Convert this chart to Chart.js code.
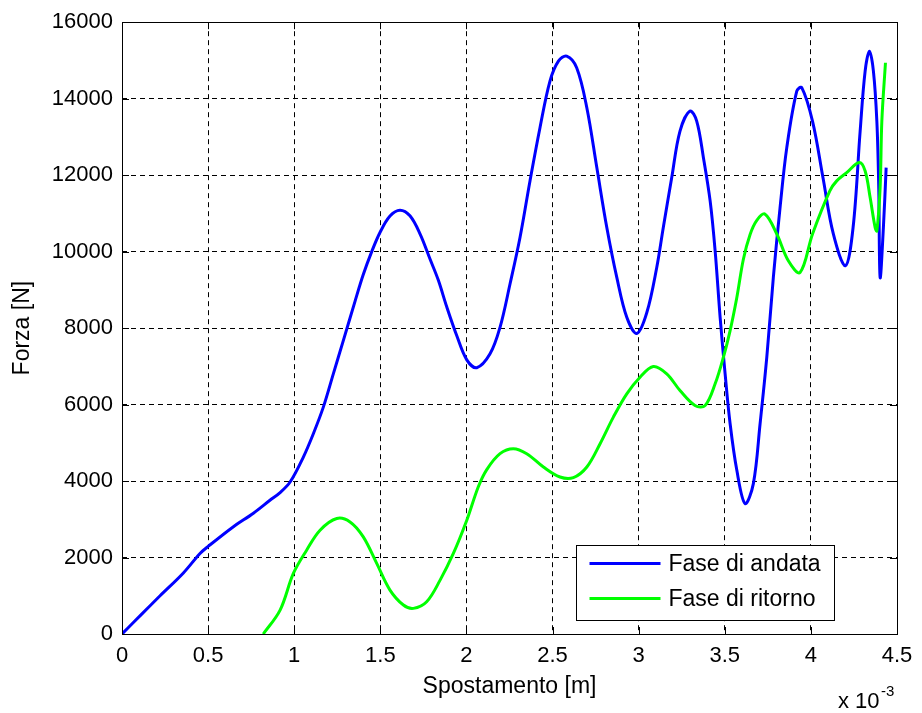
<!DOCTYPE html>
<html>
<head>
<meta charset="utf-8">
<script src="https://cdn.jsdelivr.net/npm/chart.js@4.4.1/dist/chart.umd.min.js"></script>
<style>
html, body { margin: 0; padding: 0; background: #fff; }
#wrap { width: 922px; height: 713px; }
</style>
</head>
<body>
<div id="wrap"><canvas id="canvas" width="922" height="713"></canvas></div>
<script>
// displacement in units of 1e-3 m, force in N
const andataX = [0, 0.066, 0.163, 0.221, 0.355, 0.453, 0.5, 0.645, 0.763, 0.859, 0.918, 0.976, 1.053, 1.111,
    1.169, 1.227, 1.285, 1.353, 1.401, 1.450, 1.498, 1.556, 1.614, 1.672, 1.731, 1.789, 1.837, 1.886, 1.944, 2.002, 2.060,
    2.137, 2.195, 2.253, 2.311, 2.369, 2.427, 2.485, 2.534, 2.582, 2.640, 2.699, 2.757, 2.815, 2.873, 2.931, 2.989,
    3.047, 3.105, 3.143, 3.192, 3.240, 3.298, 3.337, 3.376, 3.415, 3.444, 3.473, 3.502, 3.531, 3.570, 3.618, 3.666,
    3.705, 3.744, 3.782, 3.821, 3.860, 3.918, 3.947, 4.010, 4.070, 4.130, 4.200, 4.245, 4.286, 4.315, 4.340, 4.363,
    4.383, 4.394, 4.402, 4.421, 4.437];
const andataY = [0, 300, 740, 1000, 1590, 2106, 2290, 2800, 3160, 3497, 3700, 3975, 4628, 5238,
    5933, 6804, 7673, 8700, 9400, 10000, 10500, 10930, 11084, 10936, 10460, 9800, 9250, 8550, 7800, 7170, 6965,
    7326, 8021, 9153, 10370, 11849, 13241, 14459, 14981, 15112, 14807, 13763, 12197, 10631, 9326, 8282, 7860,
    8400, 9587, 10631, 11936, 13154, 13676, 13415, 12458, 11327, 10022, 8282, 6804, 5499, 4280, 3411, 3933,
    5499, 7238, 9326, 11153, 12719, 14199, 14290, 13400, 11940, 10470, 9630, 10630, 13150, 14720, 15240, 14720,
    13410, 11675, 9325, 10631, 12197];

const ritornoX = [0.82, 0.918, 0.995, 1.072, 1.150, 1.247, 1.324, 1.401, 1.479, 1.556, 1.634, 1.692, 1.769, 1.847,
    1.924, 2.002, 2.069, 2.118, 2.195, 2.272, 2.350, 2.447, 2.543, 2.621, 2.699, 2.776, 2.853, 2.931, 3.008, 3.085,
    3.163, 3.240, 3.327, 3.386, 3.444, 3.492, 3.531, 3.570, 3.608, 3.647, 3.686, 3.734, 3.802, 3.869, 3.937, 4.010,
    4.110, 4.150, 4.208, 4.280, 4.315, 4.344, 4.373, 4.383, 4.402, 4.412, 4.433];
const ritornoY = [0, 626, 1584, 2192, 2714, 3020, 2931, 2540, 1845, 1148, 757, 670, 843, 1409,
    2106, 2975, 3850, 4300, 4716, 4846, 4716, 4367, 4106, 4090, 4367, 4977, 5672, 6282, 6716, 6995,
    6804, 6368, 5977, 5977, 6543, 7238, 7934, 8800, 9800, 10450, 10820, 10980, 10460, 9760, 9456, 10470,
    11590, 11850, 12066, 12330, 12110, 11414, 10631, 10540, 11675, 13415, 14940];

const seriesNames = ['Fase di andata', 'Fase di ritorno'];
const seriesColors = ['#0000ff', '#00ff00'];
const xTitle = 'Spostamento [m]';
const yTitle = 'Forza [N]';

const FONT = "'Liberation Sans', Arial, sans-serif";

function toPoints(xs, ys) {
    return xs.map((x, i) => ({ x: x, y: ys[i] }));
}

//frame with inward ticks (matlab style), legend inside the axes and the x exponent
const matlabBox = {
    id: 'matlabBox',
    afterDatasetsDraw(chart) {
        const { ctx, chartArea: a, scales } = chart;
        ctx.save();
        ctx.strokeStyle = '#000';
        ctx.lineWidth = 1;
        ctx.setLineDash([]);
        ctx.beginPath();
        scales.x.ticks.forEach(t => {
            const px = Math.round(scales.x.getPixelForValue(t.value)) + 0.5;
            ctx.moveTo(px, a.bottom); ctx.lineTo(px, a.bottom - 7);
            ctx.moveTo(px, a.top); ctx.lineTo(px, a.top + 7);
        });
        scales.y.ticks.forEach(t => {
            const py = Math.round(scales.y.getPixelForValue(t.value)) + 0.5;
            ctx.moveTo(a.left, py); ctx.lineTo(a.left + 7, py);
            ctx.moveTo(a.right, py); ctx.lineTo(a.right - 7, py);
        });
        ctx.stroke();
        ctx.strokeRect(Math.round(a.left) + 0.5, Math.round(a.top) + 0.5,
            Math.round(a.right - a.left), Math.round(a.bottom - a.top));

        // legend
        const bx = Math.round(a.right - 321) + 0.5, by = Math.round(a.bottom - 89) + 0.5;
        const bw = 258, bh = 75;
        ctx.fillStyle = '#fff';
        ctx.fillRect(bx, by, bw, bh);
        ctx.strokeRect(bx, by, bw, bh);
        ctx.font = '23px ' + FONT;
        ctx.textBaseline = 'middle';
        ctx.textAlign = 'left';
        seriesNames.forEach((name, i) => {
            const ly = by + 18 + i * 35;
            ctx.strokeStyle = seriesColors[i];
            ctx.lineWidth = 3;
            ctx.beginPath();
            ctx.moveTo(bx + 13, ly); ctx.lineTo(bx + 84, ly);
            ctx.stroke();
            ctx.fillStyle = '#000';
            ctx.fillText(name, bx + 92, ly + 1);
        });

        // x 10^-3
        ctx.fillStyle = '#000';
        ctx.textBaseline = 'alphabetic';
        ctx.font = '22px ' + FONT;
        ctx.fillText('x 10', 838, 708);
        ctx.font = '15px ' + FONT;
        ctx.fillText('-3', 881, 696);
        ctx.restore();
    }
};

const ctx = document.getElementById('canvas').getContext('2d');
const chart = new Chart(ctx, {
    type: 'line',
    data: {
        datasets: [{
            label: seriesNames[0],
            data: toPoints(andataX, andataY),
            borderColor: seriesColors[0],
            backgroundColor: seriesColors[0],
            borderWidth: 3,
            pointRadius: 0,
            fill: false,
            tension: 0.35,
            order: 1
        }, {
            label: seriesNames[1],
            data: toPoints(ritornoX, ritornoY),
            borderColor: seriesColors[1],
            backgroundColor: seriesColors[1],
            borderWidth: 3,
            pointRadius: 0,
            fill: false,
            tension: 0.35,
            order: 0
        }]
    },
    options: {
        responsive: false,
        animation: false,
        layout: { padding: { top: 21, right: 25, left: 0, bottom: 0 } },
        plugins: {
            legend: { display: false },
            tooltip: { enabled: false }
        },
        scales: {
            x: {
                type: 'linear',
                min: 0,
                max: 4.5,
                afterFit: s => { s.height = 79; },
                ticks: {
                    stepSize: 0.5,
                    autoSkip: false,
                    maxRotation: 0,
                    padding: 9,
                    color: '#000',
                    font: { family: FONT, size: 22 },
                    callback: v => String(v)
                },
                grid: { color: '#000', lineWidth: 1, drawTicks: false },
                border: { display: false, dash: [5, 4] },
                title: {
                    display: true,
                    text: xTitle,
                    color: '#000',
                    font: { family: FONT, size: 23 },
                    padding: { top: 0, bottom: 13 }
                }
            },
            y: {
                min: 0,
                max: 16000,
                afterFit: s => { s.width = 122; },
                ticks: {
                    stepSize: 2000,
                    autoSkip: false,
                    padding: 9,
                    color: '#000',
                    font: { family: FONT, size: 22 },
                    callback: v => String(v)
                },
                grid: { color: '#000', lineWidth: 1, drawTicks: false },
                border: { display: false, dash: [5, 4] },
                title: {
                    display: true,
                    text: yTitle,
                    color: '#000',
                    font: { family: FONT, size: 23 },
                    padding: { top: 9, bottom: 0 }
                }
            }
        }
    },
    plugins: [matlabBox]
});
</script>
</body>
</html>
